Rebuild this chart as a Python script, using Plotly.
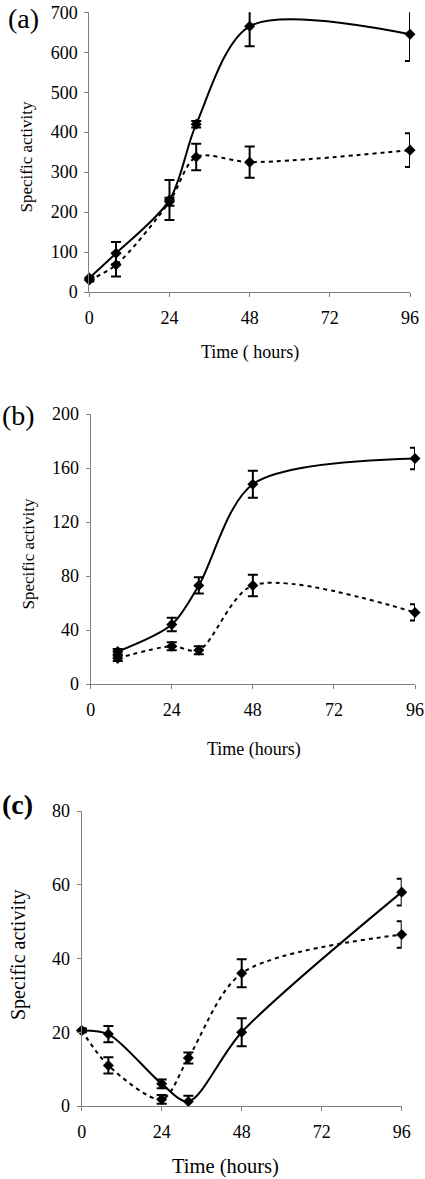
import plotly.graph_objects as go

# ---------------- data ----------------
hours_a = [0, 8, 24, 32, 48, 96]
a_solid = [35, 97, 230, 420, 665, 645]
a_solid_err = [4, 28, 50, 8, 50, 67]
a_dash = [30, 68, 226, 338, 325, 355]
a_dash_err = [4, 29, 10, 33, 39, 42]

hours_b = [8, 24, 32, 48, 96]
b_solid = [24, 44, 73, 148, 167]
b_solid_err = [2, 5, 6, 10, 8]
b_dash = [19, 28, 25, 73, 53]
b_dash_err = [2, 3, 3, 8, 6]

hours_c = [0, 8, 24, 32, 48, 96]
c_solid = [20.5, 19.5, 6, 1.2, 20, 58]
c_solid_err = [0.5, 2.2, 1.2, 1.6, 3.8, 3.6]
c_dash = [20.5, 11, 1.8, 13, 36, 46.5]
c_dash_err = [0.5, 2.2, 1.2, 1.5, 3.8, 3.6]

x_ticks = [0, 24, 48, 72, 96]
y_ticks_a = [0, 100, 200, 300, 400, 500, 600, 700]
y_ticks_b = [0, 40, 80, 120, 160, 200]
y_ticks_c = [0, 20, 40, 60, 80]

panel_labels = ["(a)", "(b)", "(c)"]
x_titles = ["Time ( hours)", "Time (hours)", "Time (hours)"]
y_title = "Specific activity"

W, H = 425, 1179
FONT = "Liberation Serif"

fig = go.Figure()


def add_series(x, y, err, dash, ax):
    fig.add_trace(go.Scatter(
        x=x, y=y, mode="lines+markers",
        xaxis="x" + ax, yaxis="y" + ax,
        line=dict(color="black", width=2, dash=dash, shape="spline", smoothing=0.85),
        marker=dict(symbol="diamond", size=8.5, color="black"),
        error_y=dict(type="data", array=err, visible=True, color="black",
                     thickness=2, width=5),
        cliponaxis=False, showlegend=False, hoverinfo="x+y"))


panels = [
    (hours_a, a_solid, a_solid_err, a_dash, a_dash_err, y_ticks_a, ""),
    (hours_b, b_solid, b_solid_err, b_dash, b_dash_err, y_ticks_b, "2"),
    (hours_c, c_solid, c_solid_err, c_dash, c_dash_err, y_ticks_c, "3"),
]

for hx, ys, es, yd, ed, yt, ax in panels:
    add_series(hx, yd, ed, "4px,4px", ax)
    add_series(hx, ys, es, "solid", ax)

# pixel geometry of the three plot areas: (x0, x1, y_top, y_bottom)
geom = [
    (89.3, 410.0, 12.3, 292.0),
    (90.7, 415.0, 414.0, 684.0),
    (81.7, 401.7, 811.0, 1106.0),
]

axis_common = dict(showline=True, linecolor="#808080", linewidth=1,
                   ticks="outside", ticklen=4, tickcolor="#808080", tickwidth=1,
                   showgrid=False, zeroline=False,
                   tickfont=dict(family=FONT, size=18, color="black"))

layout = dict(width=W, height=H,
              margin=dict(l=0, r=0, t=0, b=0, autoexpand=False),
              paper_bgcolor="white", plot_bgcolor="white", showlegend=False)

for i, ((x0, x1, yt_, yb_), (hx, ys, es, yd, ed, yt, ax)) in enumerate(zip(geom, panels)):
    xk = "xaxis" + ax
    yk = "yaxis" + ax
    layout[xk] = dict(domain=[x0 / W, x1 / W], range=[0, 96], tickvals=x_ticks,
                      anchor="y" + ax, ticklabelstandoff=5, **axis_common)
    layout[yk] = dict(domain=[1 - yb_ / H, 1 - yt_ / H], range=[yt[0], yt[-1]],
                      tickvals=yt, anchor="x" + ax, ticklabelstandoff=3, **axis_common)

fig.update_layout(**layout)

# text annotations (panel labels and axis titles)
ann = []
label_pos = [(23, 18, False), (18, 415, False), (17, 804, True)]
xt_pos = [(250, 352, 18), (254, 749, 18), (225, 1166, 20.5)]
yt_pos = [(26, 157.5, 17), (27.5, 554, 17), (18, 955, 20)]
for i in range(3):
    lx, ly, bold = label_pos[i]
    txt = "<b>" + panel_labels[i] + "</b>" if bold else panel_labels[i]
    ann.append(dict(text=txt, x=lx / W, y=1 - ly / H, xref="paper", yref="paper",
                    showarrow=False, xanchor="center", yanchor="middle",
                    font=dict(family=FONT, size=28, color="black")))
    tx, ty, ts = xt_pos[i]
    ann.append(dict(text=x_titles[i], x=tx / W, y=1 - ty / H, xref="paper", yref="paper",
                    showarrow=False, xanchor="center", yanchor="middle",
                    font=dict(family=FONT, size=ts, color="black")))
    yx, yy, ys_ = yt_pos[i]
    ann.append(dict(text=y_title, x=yx / W, y=1 - yy / H, xref="paper", yref="paper",
                    showarrow=False, xanchor="center", yanchor="middle", textangle=-90,
                    font=dict(family=FONT, size=ys_, color="black")))

fig.update_layout(annotations=ann)

fig.write_html(
    "out.html",
    config={"displayModeBar": False},
    post_script="document.body.style.margin='0';document.body.style.overflow='hidden';",
)
